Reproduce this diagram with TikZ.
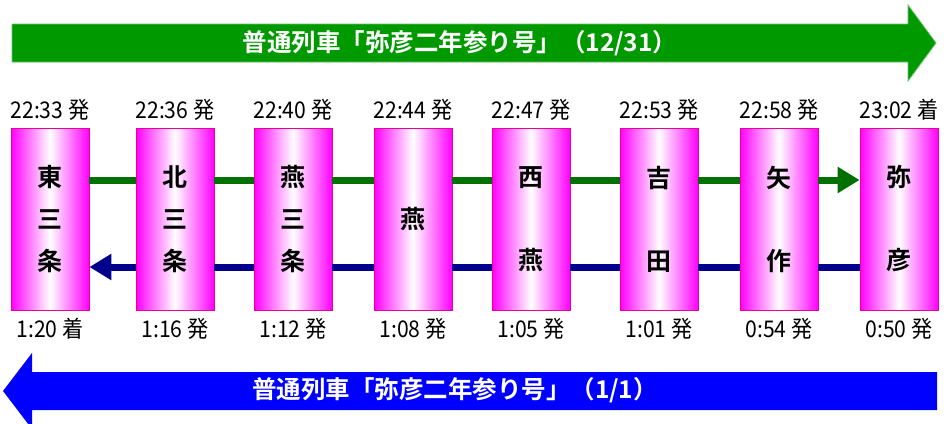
\documentclass[tikz,border=0pt]{standalone}
\usepackage{fontspec}
\setmainfont{Noto Sans CJK JP}[BoldFont={Noto Sans CJK JP Bold}]
\newfontfamily\timefont{Noto Sans CJK JP}[FakeStretch=0.92]
\usetikzlibrary{positioning,arrows.meta}

\definecolor{bandgreen}{RGB}{0,153,0}
\definecolor{bandblue}{RGB}{0,0,255}
\definecolor{upgreen}{RGB}{0,112,0}
\definecolor{downblue}{RGB}{0,0,140}

\tikzset{
  station/.style={draw=magenta, line width=0.8pt, minimum width=78pt,
    minimum height=182pt, inner sep=0pt, left color=magenta,
    right color=magenta, middle color=white, align=center,
    font=\bfseries\fontsize{25}{42}\selectfont},
  timelabel/.style={inner sep=0pt, font=\timefont\fontsize{23}{26}\selectfont},
  bandtitle/.style={text=white, inner sep=0pt,
    font=\bfseries\fontsize{24.5}{28}\selectfont},
  uptrack/.style={draw=upgreen, line width=7pt},
  downtrack/.style={draw=downblue, line width=7pt},
  tracktip/.style={-{Triangle[length=22pt,width=25pt]}}
}

\begin{document}
\begin{tikzpicture}[x=1pt,y=-1pt]
    \useasboundingbox (0,0) rectangle (949,423);

    % Direction bands
    \fill[bandgreen, draw=bandgreen!60!white, line width=0.8pt]
      (12,24) -- (908,24) -- (908,5) -- (936,43) -- (908,81)
      -- (908,62) -- (12,62) -- cycle;
    \fill[bandblue]
      (937,372) -- (32,372) -- (32,353) -- (3,391) -- (32,429)
      -- (32,410) -- (937,410) -- cycle;
    \node[bandtitle] (upname) at (460,43) {普通列車「弥彦二年参り号」（12/31）};
    \node[bandtitle] (downname) at (455,390) {普通列車「弥彦二年参り号」（1/1）};

    % Stations
    \node[station] (st1) at (50,219) {東\\三\\条};
    \node[station] (st2) at (175,219) {北\\三\\条};
    \node[station] (st3) at (293,219) {燕\\三\\条};
    \node[station] (st4) at (413,219) {燕};
    \node[station] (st5) at (531,219) {西\\[41pt]燕};
    \node[station] (st6) at (659,219) {吉\\[41pt]田};
    \node[station] (st7) at (779,219) {矢\\[41pt]作};
    \node[station] (st8) at (899,219) {弥\\[41pt]彦};

    % Tracks
    \coordinate (upline) at (0,180);
    \coordinate (downline) at (0,267);
    \foreach \a/\b in {1/2,2/3,3/4,4/5,5/6,6/7}
      \draw[uptrack] (st\a.east |- upline) -- (st\b.west |- upline);
    \draw[uptrack, tracktip] (st7.east |- upline) -- (st8.west |- upline);
    \foreach \a/\b in {8/7,7/6,6/5,5/4,4/3,3/2}
      \draw[downtrack] (st\a.west |- downline) -- (st\b.east |- downline);
    \draw[downtrack, tracktip] (st2.west |- downline) -- (st1.east |- downline);

    % Times, 12/31 (above)
    \node[timelabel] (up1) at ([yshift=18pt]st1.north) {22:33 発};
    \node[timelabel] (up2) at ([yshift=18pt]st2.north) {22:36 発};
    \node[timelabel] (up3) at ([yshift=18pt]st3.north) {22:40 発};
    \node[timelabel] (up4) at ([yshift=18pt]st4.north) {22:44 発};
    \node[timelabel] (up5) at ([yshift=18pt]st5.north) {22:47 発};
    \node[timelabel] (up6) at ([yshift=18pt]st6.north) {22:53 発};
    \node[timelabel] (up7) at ([yshift=18pt]st7.north) {22:58 発};
    \node[timelabel] (up8) at ([yshift=18pt]st8.north) {23:02 着};

    % Times, 1/1 (below)
    \node[timelabel] (dn1) at ([yshift=-18pt]st1.south) {1:20 着};
    \node[timelabel] (dn2) at ([yshift=-18pt]st2.south) {1:16 発};
    \node[timelabel] (dn3) at ([yshift=-18pt]st3.south) {1:12 発};
    \node[timelabel] (dn4) at ([yshift=-18pt]st4.south) {1:08 発};
    \node[timelabel] (dn5) at ([yshift=-18pt]st5.south) {1:05 発};
    \node[timelabel] (dn6) at ([yshift=-18pt]st6.south) {1:01 発};
    \node[timelabel] (dn7) at ([yshift=-18pt]st7.south) {0:54 発};
    \node[timelabel] (dn8) at ([yshift=-18pt]st8.south) {0:50 発};
\end{tikzpicture}
\end{document}
